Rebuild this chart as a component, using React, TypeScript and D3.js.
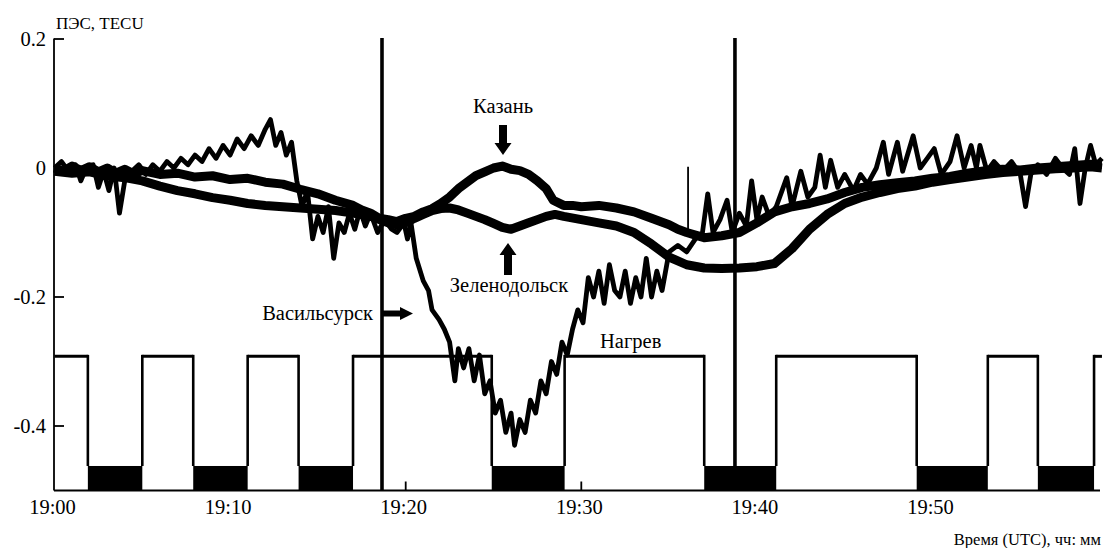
import React from "react";
import * as d3 from "d3";

// ---- axis ticks ----
const xTicks = [0, 10, 20, 30, 40, 50];
const xTickLabels = ["19:00", "19:10", "19:20", "19:30", "19:40", "19:50"];
const yTicks = [0.2, 0, -0.2, -0.4];
const yTickLabels = ["0.2", "0", "-0.2", "-0.4"];

// ---- TEC series: [minutes after 19:00, TECU] ----
const vasilsursk: [number, number][] = [
  [0, 0.0], [0.4, 0.01], [0.8, -0.005], [1.2, 0.005], [1.5, -0.02], [1.8, 0.0], [2.2, 0.005], [2.5, -0.03],
  [2.8, -0.005], [3.1, -0.035], [3.4, 0.0], [3.7, -0.07], [4.0, -0.02], [4.4, -0.005], [4.8, 0.005], [5.2, -0.01],
  [5.6, 0.005], [6.0, -0.005], [6.4, 0.01], [6.8, 0.0], [7.2, 0.015], [7.6, 0.005], [8.0, 0.02], [8.4, 0.01],
  [8.8, 0.03], [9.2, 0.015], [9.6, 0.035], [10.0, 0.02], [10.4, 0.045], [10.8, 0.03], [11.2, 0.05], [11.6, 0.035],
  [12.0, 0.06], [12.3, 0.075], [12.6, 0.035], [12.9, 0.055], [13.2, 0.02], [13.5, 0.04], [13.8, -0.02], [14.1, -0.06],
  [14.4, -0.035], [14.7, -0.11], [15.0, -0.075], [15.3, -0.1], [15.6, -0.06], [15.9, -0.14], [16.2, -0.085], [16.5, -0.1],
  [16.8, -0.07], [17.1, -0.095], [17.4, -0.065], [17.7, -0.09], [18.0, -0.07], [18.4, -0.1], [18.8, -0.08], [19.2, -0.095],
  [19.5, -0.1], [19.9, -0.085], [20.1, -0.11], [20.3, -0.085], [20.6, -0.14], [21.0, -0.175], [21.3, -0.19], [21.5, -0.22],
  [21.9, -0.235], [22.2, -0.25], [22.5, -0.27], [22.8, -0.33], [23.0, -0.28], [23.3, -0.31], [23.6, -0.28], [23.9, -0.33],
  [24.2, -0.29], [24.5, -0.35], [24.8, -0.33], [25.1, -0.38], [25.4, -0.36], [25.7, -0.41], [26.0, -0.38], [26.2, -0.43],
  [26.5, -0.39], [26.8, -0.41], [27.1, -0.36], [27.4, -0.38], [27.7, -0.33], [28.0, -0.35], [28.3, -0.3], [28.6, -0.32],
  [28.9, -0.27], [29.2, -0.29], [29.5, -0.25], [29.8, -0.22], [30.1, -0.24], [30.4, -0.17], [30.7, -0.2], [31.0, -0.16],
  [31.3, -0.21], [31.6, -0.15], [31.9, -0.19], [32.2, -0.2], [32.5, -0.16], [32.8, -0.21], [33.1, -0.17], [33.4, -0.2],
  [33.7, -0.14], [34.0, -0.2], [34.3, -0.16], [34.6, -0.19], [35.0, -0.13], [35.5, -0.12], [36.0, -0.13], [36.5, -0.11],
  [36.9, -0.1], [37.2, -0.04], [37.5, -0.1], [37.9, -0.08], [38.3, -0.05], [38.6, -0.1], [39.0, -0.07], [39.4, -0.09],
  [39.7, -0.02], [40.0, -0.08], [40.3, -0.045], [40.7, -0.075], [41.1, -0.06], [41.7, -0.015], [42.0, -0.06], [42.5, -0.005],
  [42.9, -0.045], [43.3, -0.03], [43.6, 0.02], [43.9, -0.03], [44.2, 0.012], [44.6, -0.03], [45.0, -0.01], [45.5, -0.035],
  [45.9, -0.01], [46.3, -0.025], [46.8, 0.0], [47.2, 0.04], [47.5, -0.01], [48.0, 0.04], [48.3, -0.005], [48.9, 0.05],
  [49.3, 0.0], [49.7, 0.015], [50.1, 0.03], [50.5, -0.01], [51.0, 0.01], [51.4, 0.05], [51.8, 0.0], [52.2, 0.035],
  [52.5, 0.0], [52.7, 0.035], [53.1, -0.005], [53.5, 0.01], [54.0, -0.005], [54.5, 0.01], [55.0, -0.01], [55.3, -0.06],
  [55.6, -0.01], [56.0, 0.005], [56.5, -0.01], [57.0, 0.015], [57.4, 0.0], [57.8, -0.01], [58.1, 0.03], [58.4, -0.055],
  [58.7, 0.0], [59.0, 0.035], [59.3, 0.005], [59.65, 0.015],
];

const kazan: [number, number][] = [
  [0, 0.0], [0.5, -0.005], [1, 0.003], [1.5, -0.004], [2, 0.002], [2.5, -0.006], [3, 0.0], [3.5, -0.008],
  [4, -0.002], [4.5, -0.009], [5, -0.004], [6, -0.01], [7, -0.008], [8, -0.014], [9, -0.012], [10, -0.018],
  [11, -0.016], [12, -0.022], [13, -0.025], [14, -0.033], [15, -0.04], [16, -0.05], [17, -0.058], [17.5, -0.065],
  [18, -0.07], [18.5, -0.078], [19, -0.08], [19.5, -0.083], [20, -0.078], [20.5, -0.075], [21, -0.068], [21.5, -0.063],
  [22, -0.055], [22.5, -0.045], [23, -0.032], [23.5, -0.022], [24, -0.012], [24.5, -0.006], [25, 0.0], [25.5, 0.003],
  [26, -0.002], [26.5, -0.004], [27, -0.01], [27.5, -0.02], [28, -0.032], [28.4, -0.05], [29, -0.058], [29.5, -0.058],
  [30, -0.06], [31, -0.058], [32, -0.062], [33, -0.068], [34, -0.078], [35, -0.088], [35.5, -0.095], [36, -0.1],
  [36.5, -0.104], [37, -0.108], [38, -0.105], [39, -0.1], [40, -0.085], [41, -0.068], [42, -0.06], [43, -0.055],
  [44, -0.048], [45, -0.038], [46, -0.03], [47, -0.026], [48, -0.023], [49, -0.02], [50, -0.016], [51, -0.013],
  [52, -0.008], [53, -0.004], [54, -0.002], [55, -0.003], [56, 0.0], [57, 0.002], [58, 0.004], [59, 0.006], [59.65, 0.006],
];

const zelenodolsk: [number, number][] = [
  [0, -0.005], [1, -0.008], [2, -0.006], [3, -0.012], [4, -0.015], [5, -0.02], [6, -0.028], [7, -0.035],
  [8, -0.04], [9, -0.046], [10, -0.05], [11, -0.055], [12, -0.058], [13, -0.06], [14, -0.062], [15, -0.064],
  [16, -0.066], [17, -0.07], [18, -0.075], [18.5, -0.08], [19, -0.085], [19.5, -0.088], [20, -0.085], [20.5, -0.078],
  [21, -0.072], [21.5, -0.066], [22, -0.063], [22.5, -0.062], [23, -0.065], [23.5, -0.07], [24, -0.075], [24.5, -0.08],
  [25, -0.086], [25.5, -0.092], [26, -0.095], [26.5, -0.09], [27, -0.085], [27.5, -0.08], [28, -0.075], [28.5, -0.072],
  [29, -0.075], [30, -0.08], [31, -0.085], [32, -0.09], [33, -0.1], [34, -0.118], [35, -0.138], [36, -0.15],
  [37, -0.155], [38, -0.156], [39, -0.155], [40, -0.153], [41, -0.148], [42, -0.125], [43, -0.095], [44, -0.072],
  [45, -0.055], [46, -0.045], [47, -0.038], [48, -0.032], [49, -0.028], [50, -0.022], [51, -0.018], [52, -0.014],
  [53, -0.01], [54, -0.007], [55, -0.005], [56, -0.003], [57, -0.001], [58, 0.0], [59, 0.002], [59.65, 0.0],
];

// single-sample spike: [minute, from, to]
const spikes: [number, number, number][] = [[36.08, -0.105, 0.002]];

// heating on/off square wave (starts at the upper level)
const heatingSwitches = [1.9, 5.0, 7.9, 11.0, 13.9, 17.0, 24.9, 29.05, 37.0, 41.1, 49.1, 53.15, 56.0, 59.2];
const heatingHigh = -0.292;
const heatingLow = -0.462;
const dataEnd = 59.65;

// vertical markers
const markerLines = [18.65, 38.75];

const FONT = '"Liberation Serif", "Times New Roman", serif';

export default function App() {
  const W = 1109, H = 548;
  const x = d3.scaleLinear().domain([0, 60]).range([54.5, 54.5 + 1053.6]);
  const y = d3.scaleLinear().domain([-0.5, 0.2]).range([490.5, 39]);
  const line = d3.line<[number, number]>().x(d => x(d[0])).y(d => y(d[1]));

  const bounds = [0, ...heatingSwitches, dataEnd];
  const segs = d3.range(bounds.length - 1).map(i => ({ a: bounds[i], b: bounds[i + 1], high: i % 2 === 0 }));

  const axisLeft = 54;
  const axisBottom = y(-0.5);
  const axisRight = 1100;

  const arrowDown = (cx: number, tail: number, tip: number) => {
    const hw = 8.5, sw = 4, hl = 12;
    return `M${cx - sw},${tail} L${cx + sw},${tail} L${cx + sw},${tip - hl} L${cx + hw},${tip - hl} L${cx},${tip} L${cx - hw},${tip - hl} L${cx - sw},${tip - hl} Z`;
  };
  const arrowUp = (cx: number, tail: number, tip: number) => {
    const hw = 8.5, sw = 4, hl = 12;
    return `M${cx - sw},${tail} L${cx + sw},${tail} L${cx + sw},${tip + hl} L${cx + hw},${tip + hl} L${cx},${tip} L${cx - hw},${tip + hl} L${cx - sw},${tip + hl} Z`;
  };
  const arrowRight = (cy: number, tail: number, tip: number) => {
    const hh = 6.5, sh = 3, hl = 13;
    return `M${tail},${cy - sh} L${tip - hl},${cy - sh} L${tip - hl},${cy - hh} L${tip},${cy} L${tip - hl},${cy + hh} L${tip - hl},${cy + sh} L${tail},${cy + sh} Z`;
  };

  const txt = (size: number) => ({ fontFamily: FONT, fontSize: size + "px" });

  return (
    <div style={{ position: "absolute", left: 0, top: 0, background: "#fff" }}>
      <svg width={W} height={H} style={{ display: "block" }}>
        <rect width={W} height={H} fill="#fff" />
        {/* heating square wave */}
        <g>
          {segs.map((s, i) =>
            s.high ? (
              <line key={"h" + i} x1={x(s.a)} x2={x(s.b)} y1={y(heatingHigh)} y2={y(heatingHigh)} stroke="#000" strokeWidth={3} />
            ) : (
              <rect key={"l" + i} x={x(s.a)} width={x(s.b) - x(s.a)} y={y(heatingLow)} height={y(-0.5) - y(heatingLow)} fill="#000" />
            )
          )}
          {heatingSwitches.map((t, i) => (
            <line key={"s" + i} x1={x(t)} x2={x(t)} y1={y(heatingHigh) - 1.5} y2={y(heatingLow)} stroke="#000" strokeWidth={2.6} />
          ))}
        </g>
        {/* TEC series */}
        <path d={line(kazan) || ""} fill="none" stroke="#000" strokeWidth={9} strokeLinejoin="round" />
        <path d={line(zelenodolsk) || ""} fill="none" stroke="#000" strokeWidth={9} strokeLinejoin="round" />
        <path d={line(vasilsursk) || ""} fill="none" stroke="#000" strokeWidth={4.8} strokeLinejoin="round" />
        {spikes.map((s, i) => (
          <line key={"sp" + i} x1={x(s[0])} x2={x(s[0])} y1={y(s[1])} y2={y(s[2])} stroke="#000" strokeWidth={1.8} />
        ))}
        {/* vertical markers */}
        {markerLines.map((t, i) => (
          <line key={"m" + i} x1={x(t)} x2={x(t)} y1={38} y2={axisBottom} stroke="#000" strokeWidth={3.6} />
        ))}
        {/* axes */}
        <line x1={axisLeft} x2={axisLeft} y1={y(0.2) - 0.5} y2={axisBottom} stroke="#000" strokeWidth={1.8} />
        <line x1={axisLeft} x2={axisRight} y1={axisBottom} y2={axisBottom} stroke="#000" strokeWidth={1.8} />
        {yTicks.map((v, i) => (
          <g key={"yt" + i}>
            <line x1={axisLeft} x2={axisLeft + 10} y1={y(v)} y2={y(v)} stroke="#000" strokeWidth={1.8} />
            <text x={46} y={y(v)} dy="0.35em" textAnchor="end" style={txt(20.5)}>{yTickLabels[i]}</text>
          </g>
        ))}
        {xTicks.map((t, i) => (
          <g key={"xt" + i}>
            {i > 0 && <line x1={x(t)} x2={x(t)} y1={axisBottom} y2={axisBottom - 9} stroke="#000" strokeWidth={1.8} />}
            <text x={x(t) - 2} y={514} textAnchor="middle" style={txt(20.5)}>{xTickLabels[i]}</text>
          </g>
        ))}
        <text x={56} y={29} style={txt(17)}>ПЭС, TECU</text>
        <text x={1101} y={545} textAnchor="end" style={txt(16.5)}>Время (UTC), чч: мм</text>
        {/* annotations */}
        <text x={503} y={113} textAnchor="middle" style={txt(20.5)}>Казань</text>
        <path d={arrowDown(503, 125, 155)} fill="#000" />
        <path d={arrowUp(508, 275, 243)} fill="#000" />
        <text x={509} y={292} textAnchor="middle" style={txt(20.5)}>Зеленодольск</text>
        <text x={373} y={320} textAnchor="end" style={txt(20.5)}>Васильсурск</text>
        <path d={arrowRight(313.5, 383, 413)} fill="#000" />
        <text x={600} y={348} style={txt(20.5)}>Нагрев</text>
      </svg>
    </div>
  );
}
